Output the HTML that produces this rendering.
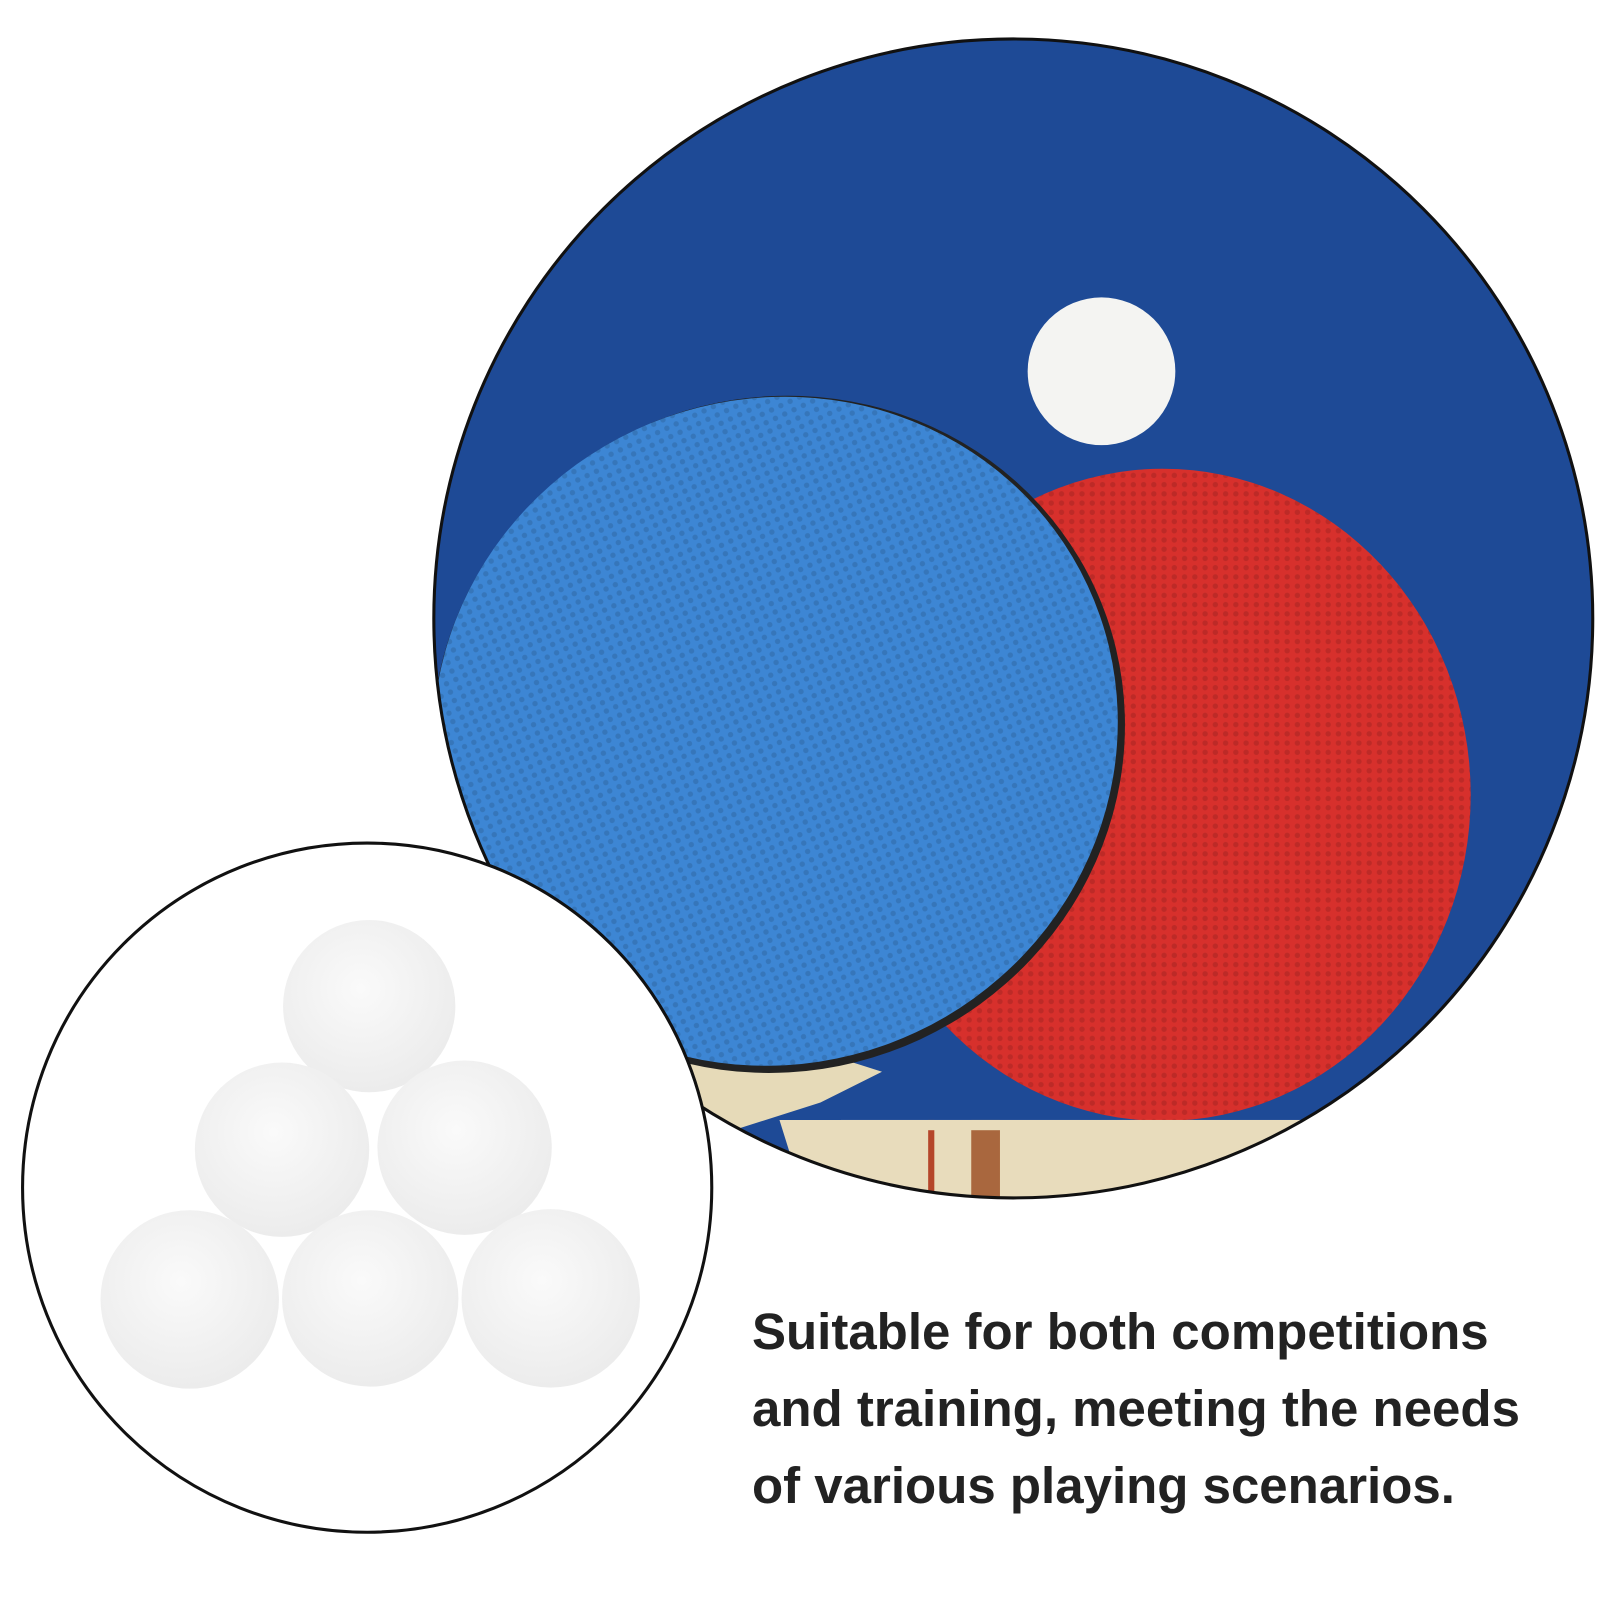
<!DOCTYPE html>
<html><head><style>
html,body{margin:0;padding:0;background:#fff;width:1600px;height:1600px;overflow:hidden}
.t{position:absolute;left:752px;top:1293px;font-family:"Liberation Sans",sans-serif;font-weight:bold;font-size:51px;line-height:77px;color:#222;white-space:nowrap}
</style></head><body>
<svg width="1600" height="1600" style="position:absolute;left:0;top:0">
<defs>
<clipPath id="c"><circle cx="988" cy="603" r="565"/></clipPath>
<pattern id="dots" width="10" height="9" patternUnits="userSpaceOnUse"><circle cx="5" cy="4.5" r="2.6" fill="#000" opacity="0.12"/></pattern>
<radialGradient id="b" cx="0.45" cy="0.4" r="0.6"><stop offset="0" stop-color="#fafafa"/><stop offset="1" stop-color="#ececec"/></radialGradient>
</defs>
<g transform="scale(1.0256)">
<g clip-path="url(#c)">
<rect x="400" y="20" width="1200" height="1200" fill="#1e4a96"/>
<path d="M760 1092 L1400 1092 L1400 1220 L800 1220 Z" fill="#e8dcbc"/>
<rect x="905" y="1092" width="6" height="130" fill="#b5462a"/>
<rect x="947" y="1092" width="28" height="130" fill="#a9673e"/>
<path d="M640 975 L860 1045 L800 1075 L690 1110 L620 1040 Z" fill="#e6dab8"/>
<ellipse cx="1134" cy="775" rx="300" ry="318" fill="#d7302c"/>
<ellipse cx="1134" cy="775" rx="300" ry="318" fill="url(#dots)"/>
<rect x="820" y="1092" width="620" height="10" fill="#e8dcbc"/>
<ellipse cx="759" cy="716" rx="340" ry="328" transform="rotate(-25 759 716)" fill="#222"/>
<ellipse cx="756" cy="713" rx="336" ry="324" transform="rotate(-25 756 713)" fill="#3d86d4"/>
<ellipse cx="756" cy="713" rx="336" ry="324" transform="rotate(-25 756 713)" fill="url(#dots)"/>
<circle cx="1074" cy="362" r="72" fill="#f4f4f2"/>
</g>
<circle cx="988" cy="603" r="565" fill="none" stroke="#111" stroke-width="3"/>
<circle cx="358" cy="1158" r="336" fill="#fff" stroke="#111" stroke-width="3"/>
<g transform="translate(0,-6)">
<circle cx="360" cy="987" r="84" fill="url(#b)"/>
<circle cx="275" cy="1127" r="85" fill="url(#b)"/>
<circle cx="453" cy="1125" r="85" fill="url(#b)"/>
<circle cx="185" cy="1273" r="87" fill="url(#b)"/>
<circle cx="361" cy="1272" r="86" fill="url(#b)"/>
<circle cx="537" cy="1272" r="87" fill="url(#b)"/>
</g>
</g>
</svg>
<div class="t">Suitable for both competitions<br>and training, meeting the needs<br>of various playing scenarios.</div>
</body></html>
